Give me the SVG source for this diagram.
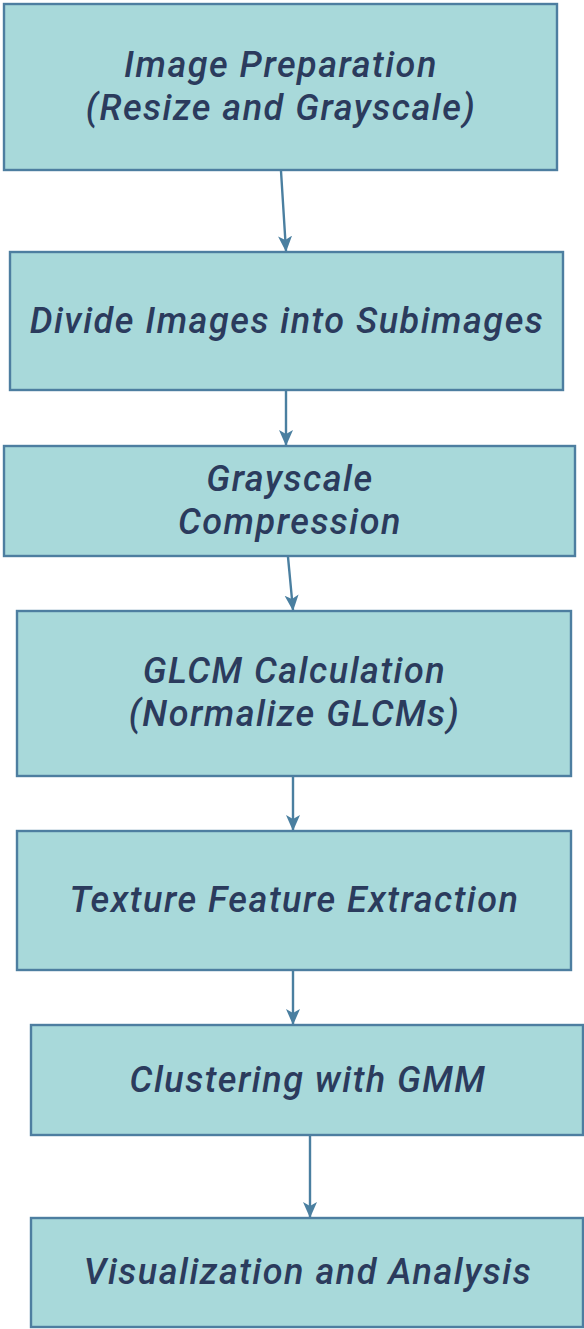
<svg xmlns="http://www.w3.org/2000/svg" width="584" height="1329" viewBox="0 0 584 1329">
  <style>
    .box { fill: #a8d9da; stroke: #4d7ea0; stroke-width: 2.4; }
    .label { font-family: Roboto, "Liberation Sans", sans-serif; font-style: italic; font-weight: 500; font-size: 36px; letter-spacing: 1.5px; fill: #2b3b5d; text-anchor: middle; }
    .link { fill: none; stroke: #4a7fa0; stroke-width: 2.4; }
  </style>
  <defs>
    <marker id="arrow" viewBox="0 0 16 16" refX="15" refY="8" markerWidth="16" markerHeight="16" markerUnits="userSpaceOnUse" orient="auto">
      <path d="M0,1 L16,8 L0,15 L4,8 Z" fill="#4a7fa0"/>
    </marker>
  </defs>
  <rect width="584" height="1329" fill="#ffffff"/>

  <g id="node-prep">
    <rect class="box" x="4" y="4" width="553" height="166"/>
    <text class="label" x="281" y="77">Image Preparation</text>
    <text class="label" x="281" y="120">(Resize and Grayscale)</text>
  </g>
  <g id="node-divide">
    <rect class="box" x="10" y="252" width="553" height="138"/>
    <text class="label" x="287" y="333">Divide Images into Subimages</text>
  </g>
  <g id="node-compress">
    <rect class="box" x="4" y="446" width="571" height="110"/>
    <text class="label" x="290" y="491">Grayscale</text>
    <text class="label" x="290" y="534">Compression</text>
  </g>
  <g id="node-glcm">
    <rect class="box" x="17" y="611" width="554" height="165"/>
    <text class="label" x="294.5" y="683">GLCM Calculation</text>
    <text class="label" x="294.5" y="726">(Normalize GLCMs)</text>
  </g>
  <g id="node-features">
    <rect class="box" x="17" y="831" width="554" height="139"/>
    <text class="label" x="294.5" y="912">Texture Feature Extraction</text>
  </g>
  <g id="node-cluster">
    <rect class="box" x="31" y="1025" width="552" height="110"/>
    <text class="label" x="308" y="1092">Clustering with GMM</text>
  </g>
  <g id="node-visual">
    <rect class="box" x="31" y="1218" width="552" height="109"/>
    <text class="label" x="308" y="1284">Visualization and Analysis</text>
  </g>

  <g id="connectors">
    <line class="link" x1="281" y1="171" x2="286" y2="251" marker-end="url(#arrow)"/>
    <line class="link" x1="286" y1="391" x2="286" y2="445" marker-end="url(#arrow)"/>
    <line class="link" x1="288" y1="557" x2="293" y2="610" marker-end="url(#arrow)"/>
    <line class="link" x1="293" y1="777" x2="293" y2="830" marker-end="url(#arrow)"/>
    <line class="link" x1="293" y1="971" x2="293" y2="1024" marker-end="url(#arrow)"/>
    <line class="link" x1="310" y1="1136" x2="310" y2="1217" marker-end="url(#arrow)"/>
  </g>
</svg>
